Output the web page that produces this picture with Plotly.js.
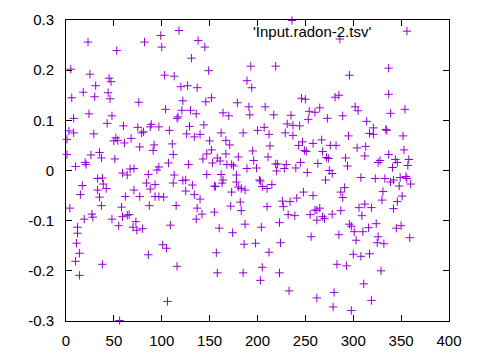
<!DOCTYPE html>
<html>
<head>
<meta charset="utf-8">
<script src="https://cdn.plot.ly/plotly-3.0.1.min.js"></script>
<style>html,body{margin:0;padding:0;background:#fff;}#chart{width:480px;height:360px;}</style>
</head>
<body>
<div id="chart"></div>
<script>
var seriesName = "'Input.radon-2.tsv'";
var xs = [23,53,5,25,45,47,31,18,6,30,44,46,76,24,8,48,43,60,75,3,8,29,1,52,50,54,68,61,77,1,26,35,37,10,20,21,51,59,64,67,71,33,38,39,42,17,33,15,35,71,62,77,37,4,58,27,28,19,48,59,64,66,55,73,70,74,12,12,11,14,10,38,14,56,
118,99,82,100,138,145,131,149,103,113,120,127,137,152,146,122,104,121,130,136,117,116,89,88,81,79,97,108,129,144,126,134,140,92,91,111,112,150,152,147,143,153,107,128,147,97,95,86,113,84,93,112,122,125,88,132,125,134,93,97,102,140,87,115,137,142,136,155,80,109,101,105,86,116,106,155,
193,219,189,194,179,191,208,164,170,192,217,231,207,200,212,185,229,162,167,171,213,195,158,161,167,180,196,211,168,173,175,189,199,219,221,230,220,228,162,178,164,163,178,202,203,180,183,187,205,210,215,156,173,182,183,172,210,226,227,232,160,174,187,204,223,186,198,224,157,212,158,185,205,203,223,233,
236,246,250,254,260,265,235,
286,337,296,281,285,337,302,305,354,273,289,339,
253,237,244,237,243,247,258,249,251,245,240,252,263,248,258,241,234,262,260,265,239,255,262,256,
314,321,334,335,317,321,295,352,267,276,282,304,313,268,353,312,337,272,274,292,328,326,344,346,358,357,294,341,275,278,271,308,323,333,339,342,349,355,356,360,348,291,287,331,289,351,330,346,312,306,319,342,287,278,309,268,270,324,296,298,316,350,345,301,310,285,326,359,303,
262,
325,332,300,308,317,283,293,329,311,280,319,279,298];
var ys = [0.256,0.239,0.202,0.192,0.184,0.177,0.169,0.156,0.145,0.147,0.155,0.143,0.136,0.113,0.104,0.109,0.094,0.089,0.086,0.079,0.075,0.073,0.062,0.065,0.059,0.06,0.064,0.055,0.047,0.032,0.031,0.036,0.025,0.008,0.016,0.012,0.023,-0.005,-0.009,0.003,0.004,-0.016,-0.015,-0.027,-0.036,-0.03,-0.039,-0.048,-0.053,-0.039,-0.052,-0.052,-0.07,-0.075,-0.073,-0.087,-0.093,-0.097,-0.097,-0.092,-0.089,-0.088,-0.11,-0.102,-0.113,-0.119,-0.113,-0.125,-0.145,-0.165,-0.181,-0.187,-0.209,-0.299,
0.279,0.269,0.256,0.246,0.259,0.246,0.224,0.199,0.19,0.188,0.167,0.169,0.165,0.145,0.137,0.139,0.122,0.12,0.12,0.113,0.107,0.104,0.092,0.087,0.077,0.075,0.087,0.08,0.088,0.091,0.073,0.067,0.072,0.051,0.04,0.053,0.032,0.059,0.041,0.033,0.023,0.015,0.015,0.012,-0.008,0.007,0.001,-0.008,-0.009,-0.025,-0.028,-0.025,-0.02,-0.019,-0.037,-0.029,-0.041,-0.048,-0.052,-0.052,-0.053,-0.057,-0.07,-0.07,-0.075,-0.087,-0.097,-0.083,-0.116,-0.109,-0.148,-0.155,-0.168,-0.191,-0.261,-0.031,
0.208,0.208,0.179,0.165,0.135,0.127,0.127,0.115,0.109,0.111,0.111,0.093,0.086,0.08,0.072,0.075,0.075,0.075,0.06,0.051,0.049,0.039,0.025,0.019,0.033,0.027,0.02,0.027,0.012,0.012,0.009,0.004,0.005,0.013,0.013,0.012,-0.001,0.004,-0.008,-0.009,-0.019,-0.025,-0.023,-0.019,-0.021,-0.033,-0.036,-0.039,-0.032,-0.036,-0.028,-0.032,-0.043,-0.063,-0.08,-0.071,-0.072,-0.061,-0.072,-0.088,-0.115,-0.124,-0.107,-0.113,-0.104,-0.147,-0.145,-0.144,-0.164,-0.163,-0.204,-0.204,-0.193,-0.219,-0.204,-0.24,
0.299,0.144,0.142,0.118,0.116,0.125,0.110,
0.262,0.204,0.190,0.146,0.150,0.152,0.127,0.119,0.122,0.104,0.109,0.114,
0.102,0.090,0.089,0.070,0.050,0.057,0.054,0.040,0.038,0.016,0.005,-0.004,0.014,-0.043,-0.050,-0.055,-0.062,-0.079,-0.079,-0.075,-0.090,-0.088,-0.099,-0.132,
0.098,0.085,0.082,0.080,0.074,0.072,0.069,0.069,0.061,0.050,0.050,0.045,0.048,0.038,0.041,0.029,0.032,0.026,0.024,0.025,0.020,0.016,0.022,0.016,0.022,0.010,0.009,0.006,0.000,-0.006,-0.019,-0.014,-0.016,-0.016,-0.023,-0.019,-0.014,-0.012,-0.016,-0.027,-0.031,-0.034,-0.043,-0.042,-0.054,-0.051,-0.059,-0.062,-0.067,-0.074,-0.074,-0.076,-0.080,-0.087,-0.090,-0.092,-0.096,-0.106,-0.107,-0.111,-0.114,-0.110,-0.115,-0.122,-0.122,-0.128,-0.132,-0.134,-0.139,
-0.254,
-0.144,-0.146,-0.167,-0.171,-0.166,-0.187,-0.190,-0.200,-0.226,-0.243,-0.259,-0.272,-0.279];
var xTicks = [0,50,100,150,200,250,300,350,400];
var yTicks = [-0.3,-0.2,-0.1,0,0.1,0.2,0.3];
var yTickText = ["-0.3","-0.2","-0.1","0","0.1","0.2","0.3"];

var font = {family: "Liberation Sans, Arial, sans-serif", size: 15, color: "#000"};
var trace = {
  x: xs, y: ys, type: "scatter", mode: "markers", name: " ",
  marker: {symbol: "cross-thin-open", size: 6, color: "#9400d3", line: {color: "#9400d3", width: 1}},
  showlegend: true, cliponaxis: false
};
var axisCommon = {
  showgrid: false, zeroline: false, showline: true, linecolor: "#000", linewidth: 1,
  mirror: "ticks", ticks: "inside", ticklen: 6, tickcolor: "#000", tickwidth: 1, tickfont: font
};
var layout = {
  width: 480, height: 360,
  margin: {l: 66, r: 31, t: 20, b: 39, pad: 0},
  paper_bgcolor: "#fff", plot_bgcolor: "#fff",
  font: font,
  xaxis: Object.assign({}, axisCommon, {range: [0, 400], tickmode: "array", tickvals: xTicks, ticklabelstandoff: 6}),
  yaxis: Object.assign({}, axisCommon, {range: [-0.3, 0.3], tickmode: "array", tickvals: yTicks, ticktext: yTickText, ticklabelstandoff: 8}),
  showlegend: true,
  legend: {x: 0.838, y: 0.962, xanchor: "left", yanchor: "middle", bgcolor: "rgba(0,0,0,0)", borderwidth: 0, font: font, itemwidth: 30},
  annotations: [{text: seriesName, xref: "paper", yref: "paper", x: 0.8016, y: 0.962, xanchor: "right", yanchor: "middle", showarrow: false, font: font}]
};
Plotly.newPlot("chart", [trace], layout, {staticPlot: true, displayModeBar: false});
</script>
</body>
</html>
